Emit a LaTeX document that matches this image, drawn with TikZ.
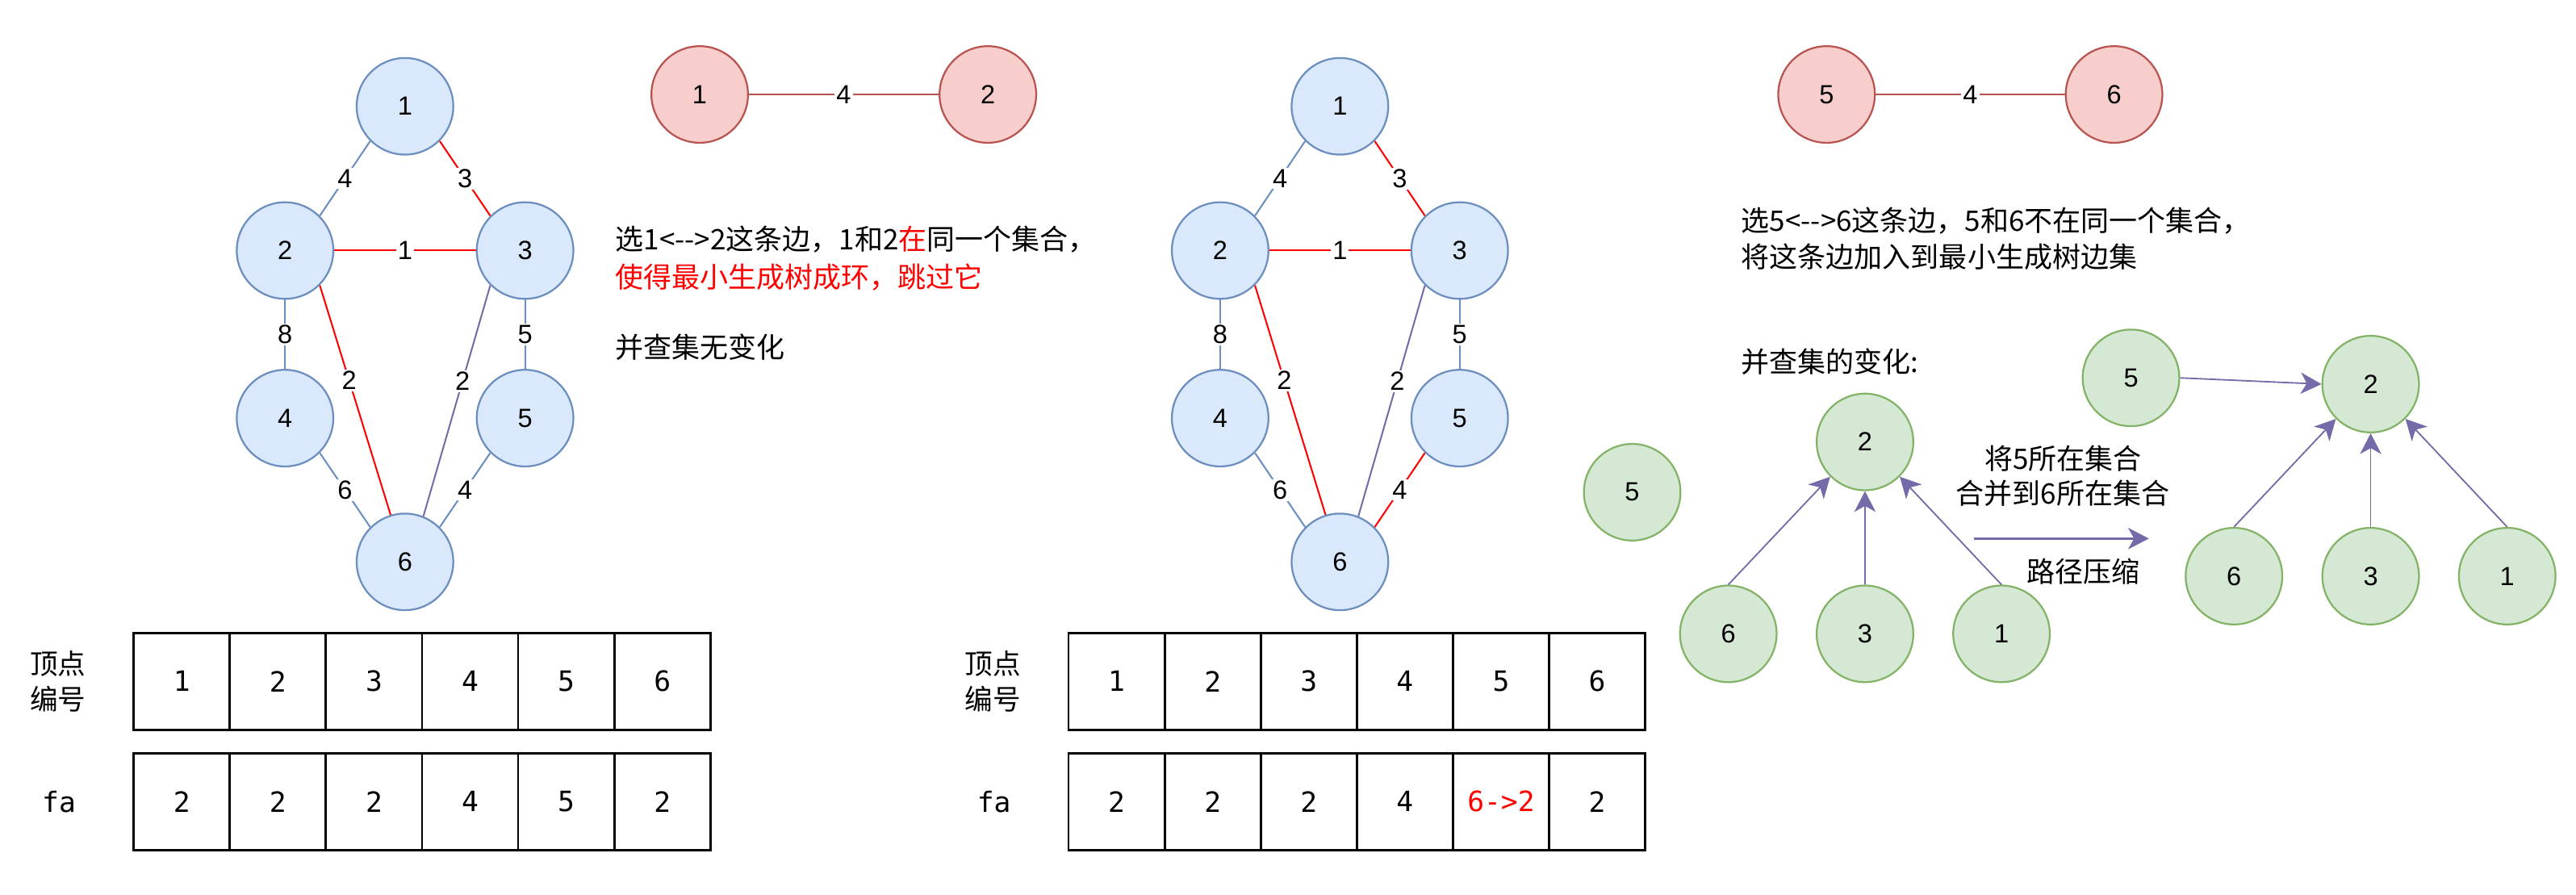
\documentclass[tikz,border=0pt]{standalone}
\usepackage{fontspec}
\setmainfont{Liberation Sans}
\newfontfamily\cjk{Noto Sans CJK SC}
\newfontfamily\monof{DejaVu Sans Mono}
\usetikzlibrary{arrows.meta}
\definecolor{bfill}{HTML}{DAE8FC}
\definecolor{bline}{HTML}{6C8EBF}
\definecolor{rfill}{HTML}{F8CECC}
\definecolor{rline}{HTML}{B85450}
\definecolor{gfill}{HTML}{D5E8D4}
\definecolor{gline}{HTML}{82B366}
\definecolor{purp}{HTML}{736CA8}
\definecolor{hot}{HTML}{FF0000}
\tikzset{
  vnode/.style={circle, minimum size=58.8pt, inner sep=0pt, line width=1.1pt, font=\fontsize{16}{16}\selectfont},
  bnode/.style={vnode, fill=bfill, draw=bline},
  rnode/.style={vnode, fill=rfill, draw=rline},
  gnode/.style={vnode, fill=gfill, draw=gline},
  bedge/.style={draw=bline, line width=1pt},
  redge/.style={draw=hot, line width=1pt},
  pedge/.style={draw=purp, line width=1pt},
  pairedge/.style={draw=rline, line width=1pt},
  wlab/.style={fill=white, inner sep=1pt, font=\fontsize{16}{16}\selectfont},
  parrow/.style={draw=purp, line width=0.9pt, -{Stealth[length=12.6pt,width=13pt,inset=3.6pt]}},
  cell/.style={draw, line width=1.4pt, minimum width=58.5pt, minimum height=59pt, inner sep=0pt, font=\monof\fontsize{17}{17}\selectfont},
  cjktext/.style={font=\cjk\fontsize{17.2}{22}\selectfont, inner sep=0pt, anchor=base west},
  cjkc/.style={font=\cjk\fontsize{17.2}{22}\selectfont, inner sep=0pt, anchor=base},
  rowlab/.style={font=\cjk\fontsize{17}{21.3}\selectfont, align=center, inner sep=0pt},
}
\begin{document}
\begin{tikzpicture}[x=1pt,y=-1pt]
\useasboundingbox (0,0) rectangle (1568,544.3);

% ---------- left graph ----------
\node[bnode] (A1) at (246.5,64.7) {1};
\node[bnode] (A2) at (173.5,152.5) {2};
\node[bnode] (A3) at (319.6,152.5) {3};
\node[bnode] (A4) at (173.5,254.5) {4};
\node[bnode] (A5) at (319.6,254.5) {5};
\node[bnode] (A6) at (246.5,342) {6};
\draw[bedge] (A1.225) -- node[wlab]{4} (A2.45);
\draw[redge] (A1.-45) -- node[wlab]{3} (A3.135);
\draw[redge] (A2.east) -- node[wlab]{1} (A3.west);
\draw[bedge] (A2.south) -- node[wlab]{8} (A4.north);
\draw[bedge] (A3.south) -- node[wlab]{5} (A5.north);
\draw[redge] (A2.-45) -- node[wlab,pos=0.415]{2} (A6.107);
\draw[pedge] (A3.225) -- node[wlab,pos=0.415]{2} (A6.68);
\draw[bedge] (A4.-45) -- node[wlab]{6} (A6.135);
\draw[bedge] (A5.225) -- node[wlab]{4} (A6.45);

% ---------- middle graph ----------
\node[bnode] (B1) at (815.6,64.7) {1};
\node[bnode] (B2) at (742.7,152.5) {2};
\node[bnode] (B3) at (888.5,152.5) {3};
\node[bnode] (B4) at (742.7,254.5) {4};
\node[bnode] (B5) at (888.5,254.5) {5};
\node[bnode] (B6) at (815.6,342) {6};
\draw[bedge] (B1.225) -- node[wlab]{4} (B2.45);
\draw[redge] (B1.-45) -- node[wlab]{3} (B3.135);
\draw[redge] (B2.east) -- node[wlab]{1} (B3.west);
\draw[bedge] (B2.south) -- node[wlab]{8} (B4.north);
\draw[bedge] (B3.south) -- node[wlab]{5} (B5.north);
\draw[redge] (B2.-45) -- node[wlab,pos=0.415]{2} (B6.107);
\draw[pedge] (B3.225) -- node[wlab,pos=0.415]{2} (B6.68);
\draw[bedge] (B4.-45) -- node[wlab]{6} (B6.135);
\draw[redge] (B5.225) -- node[wlab]{4} (B6.45);

% ---------- selected edges ----------
\node[rnode] (P1) at (425.9,57.5) {1};
\node[rnode] (P2) at (601.3,57.5) {2};
\draw[pairedge] (P1) -- node[wlab]{4} (P2);
\node[rnode] (Q1) at (1111.8,57.5) {5};
\node[rnode] (Q2) at (1286.8,57.5) {6};
\draw[pairedge] (Q1) -- node[wlab]{4} (Q2);

% ---------- descriptions ----------
\node[cjktext] (d1a) at (374.4,152.2) {选1<-{}->2这条边，1和2{\color{hot}在}同一个集合，};
\node[cjktext, text=hot] (d1b) at (374.4,175) {使得最小生成树成环，跳过它};
\node[cjktext] (d1c) at (374.4,218) {并查集无变化};
\node[cjktext] (d2a) at (1059.8,140.5) {选5<-{}->6这条边，5和6不在同一个集合，};
\node[cjktext] (d2b) at (1059.8,162.8) {将这条边加入到最小生成树边集};
\node[cjktext] (d2c) at (1059.8,226.5) {并查集的变化:};

% ---------- union-find trees ----------
\node[gnode] (G5) at (993.5,299.6) {5};
\node[gnode] (L2) at (1135.2,269) {2};
\node[gnode] (L6) at (1052,385.8) {6};
\node[gnode] (L3) at (1135.2,385.8) {3};
\node[gnode] (L1) at (1218.3,385.8) {1};
\draw[parrow] (L6.north) -- (L2.225);
\draw[parrow] (L3.north) -- (L2.south);
\draw[parrow] (L1.north) -- (L2.-45);

\node[gnode] (R5) at (1297.1,230) {5};
\node[gnode] (R2) at (1443,233.8) {2};
\node[gnode] (R6) at (1359.8,350.7) {6};
\node[gnode] (R3) at (1443,350.7) {3};
\node[gnode] (R1) at (1526.1,350.7) {1};
\draw[parrow] (R5.east) -- (R2.west);
\draw[parrow] (R6.north) -- (R2.225);
\draw[parrow] (R3.north) -- (R2.south);
\draw[parrow] (R1.north) -- (R2.-45);

\coordinate (ha) at (1201.6,327.8);
\coordinate (hb) at (1308,327.8);
\draw[parrow, line width=1.6pt] (ha) -- (hb);
\node[cjkc] (m1) at (1255.7,285.7) {将5所在集合};
\node[cjkc] (m2) at (1255.5,307) {合并到6所在集合};
\node[cjkc] (m3) at (1268.2,354.5) {路径压缩};

% ---------- tables ----------
\node[rowlab] (la1) at (35.2,414.8) {顶点\\编号};
\node[font=\monof\fontsize{17}{17}\selectfont, inner sep=0pt] (lb1) at (35.9,487.9) {fa};
\foreach \i/\v in {1/1,2/2,3/3,4/4,5/5,6/6}
  \node[cell] (ta\i) at (81.4+58.5*\i-29.25,414.75) {\v};
\foreach \i/\v in {1/2,2/2,3/2,4/4,5/5,6/2}
  \node[cell] (tb\i) at (81.4+58.5*\i-29.25,487.95) {\v};

\node[rowlab] (la2) at (604.4,414.8) {顶点\\编号};
\node[font=\monof\fontsize{17}{17}\selectfont, inner sep=0pt] (lb2) at (605,487.9) {fa};
\foreach \i/\v in {1/1,2/2,3/3,4/4,5/5,6/6}
  \node[cell] (tc\i) at (650.4+58.5*\i-29.25,414.75) {\v};
\foreach \i/\v in {1/2,2/2,3/2,4/4,5/{\color{hot}6->2},6/2}
  \node[cell] (td\i) at (650.4+58.5*\i-29.25,487.95) {\v};
\end{tikzpicture}
\end{document}
